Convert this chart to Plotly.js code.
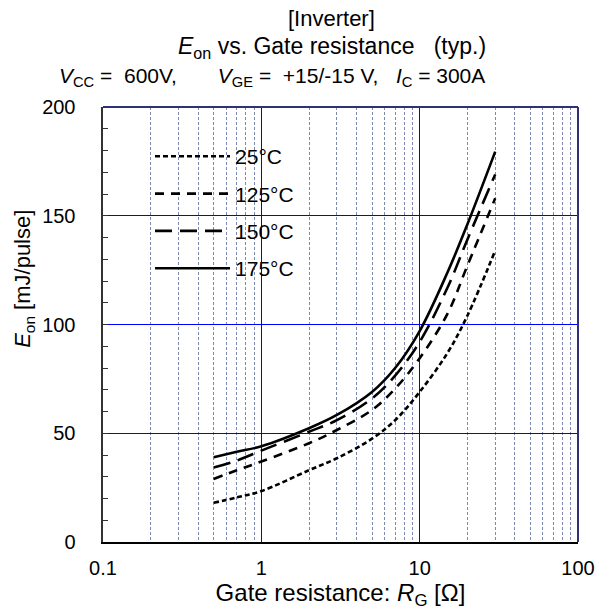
<!DOCTYPE html>
<html>
<head>
<meta charset="utf-8">
<script src="https://cdn.plot.ly/plotly-3.0.1.min.js"></script>
<style>html,body{margin:0;padding:0;background:#fff;}#chart{width:601px;height:614px;}</style>
</head>
<body>
<div id="chart"></div>
<script>
// Gate resistance RG [Ohm]
const rg = [0.5, 0.7, 1, 2, 3, 5, 7, 10, 15, 20, 30];
// Eon [mJ/pulse]
const eon25  = [18, 20.5, 23.4, 33, 38.5, 47.5, 56, 69, 87, 104, 134];
const eon125 = [29, 33, 37, 45.4, 51.5, 60.7, 70.5, 84.5, 105, 127, 158];
const eon150 = [34.2, 37.4, 42, 50.7, 56, 66, 76.5, 92, 117, 139, 169];
const eon175 = [39, 41.5, 44, 52.3, 58.4, 69, 80, 97, 124, 146, 179.5];
const seriesNames = ['25°C', '125°C', '150°C', '175°C'];
const xTickVals = [0.1, 1, 10, 100];
const xTickText = ['0.1', '1', '10', '100'];
const xMinorVals = [0.2, 0.3, 0.4, 0.5, 0.6, 0.7, 0.8, 0.9, 2, 3, 4, 5, 6, 7, 8, 9, 20, 30, 40, 50, 60, 70, 80, 90];
const yTickVals = [0, 50, 100, 150, 200];

const dashes = ['5px,3px', '9px,7px', '17px,8px', 'solid'];
const ys = [eon25, eon125, eon150, eon175];
const traces = ys.map((y, i) => ({
  x: rg, y: y, type: 'scatter', mode: 'lines', name: seriesNames[i],
  legendgroup: 'g' + i,
  line: {color: '#000', width: 2.6, dash: dashes[i], shape: 'spline', smoothing: 1}
}));

const fam = 'Liberation Sans, Arial, sans-serif';
const layout = {
  width: 601, height: 614,
  margin: {l: 103, r: 23, t: 107, b: 72},
  paper_bgcolor: '#fff', plot_bgcolor: '#fff',
  font: {family: fam, size: 20, color: '#000'},
  showlegend: true,
  legend: {x: 0.099, y: 0.933, xanchor: 'left', yanchor: 'top', bgcolor: 'rgba(255,255,255,0)',
           font: {family: fam, size: 21, color: '#000'}, tracegroupgap: 7, itemwidth: 75},
  xaxis: {
    type: 'log', range: [-1, 2], tickvals: xTickVals, ticktext: xTickText,
    tickfont: {family: fam, size: 20},
    showline: true, linecolor: '#000', linewidth: 2, ticks: '', ticklabelstandoff: 7,
    showgrid: true, gridcolor: '#0000ff', gridwidth: 1, zeroline: false,
    minor: {tickmode: 'array', tickvals: xMinorVals, showgrid: true, gridcolor: '#7a8ab0', griddash: '3px,2px', gridwidth: 1, ticks: ''},
    title: {text: 'Gate resistance: <i>R</i><sub>G</sub> [Ω]', font: {family: fam, size: 24}, standoff: 2},
    automargin: false
  },
  yaxis: {
    range: [0, 200], tickvals: yTickVals,
    tickfont: {family: fam, size: 20},
    showline: true, linecolor: '#333', linewidth: 2.5, ticks: 'inside', ticklen: 5, tickcolor: '#333',
    ticklabelstandoff: 21,
    minor: {dtick: 10, ticks: 'inside', ticklen: 5, tickcolor: '#333', showgrid: false},
    showgrid: true, gridcolor: '#0000ff', gridwidth: 1, zeroline: false,
    automargin: false
  },
  shapes: [
    {type: 'line', xref: 'paper', yref: 'paper', x0: 0, x1: 1, y0: 1, y1: 1, line: {color: '#303078', width: 2}},
    {type: 'line', xref: 'paper', yref: 'paper', x0: 1, x1: 1, y0: 0, y1: 1, line: {color: '#303078', width: 2}}
  ],
  annotations: [
    {text: '[Inverter]', xref: 'paper', yref: 'paper', x: 0.48, y: 1, yshift: 89, xanchor: 'center', yanchor: 'middle', showarrow: false, font: {family: fam, size: 22}},
    {text: '<i>E</i><sub>on</sub> vs. Gate resistance&nbsp;&nbsp;&nbsp;(typ.)', xref: 'paper', yref: 'paper', x: 0.483, y: 1, yshift: 60, xanchor: 'center', yanchor: 'middle', showarrow: false, font: {family: fam, size: 23}},
    {text: '<i>V</i><sub>CC</sub> =&nbsp;&nbsp;600V,&nbsp;&nbsp;&nbsp;&nbsp;&nbsp;&nbsp;&nbsp;<i>V</i><sub>GE</sub> =&nbsp;&nbsp;+15/-15 V,&nbsp;&nbsp;&nbsp;<i>I</i><sub>C</sub> = 300A', xref: 'paper', yref: 'paper', x: -0.097, y: 1, yshift: 30, xanchor: 'left', yanchor: 'middle', showarrow: false, font: {family: fam, size: 21}},
    {text: '<i>E</i><sub>on</sub> [mJ/pulse]', textangle: -90, xref: 'paper', yref: 'paper', x: 0, xshift: -79, y: 0.605, xanchor: 'center', yanchor: 'middle', showarrow: false, font: {family: fam, size: 22}}
  ]
};

Plotly.newPlot('chart', traces, layout, {displayModeBar: false, staticPlot: true});
</script>
</body>
</html>
